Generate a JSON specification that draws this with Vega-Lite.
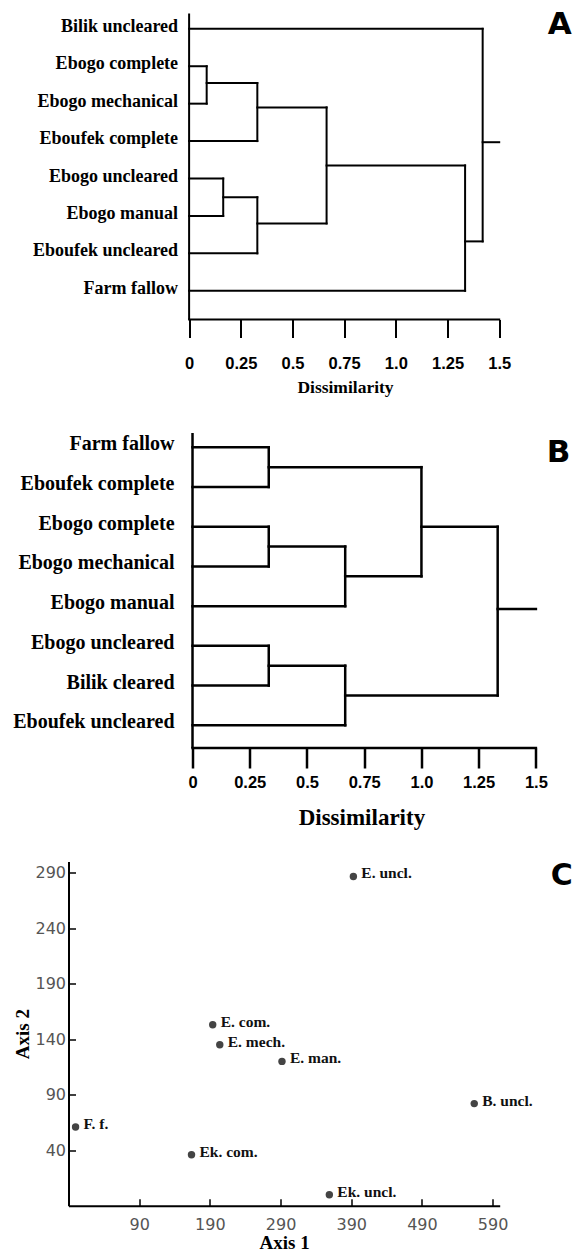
{
  "$schema": "https://vega.github.io/schema/vega-lite/v6.json",
  "padding": {"left": 12.5, "top": 8.5, "right": 0, "bottom": 0},
  "background": "white",
  "config": {"view": {"stroke": null}, "axis": {"grid": false, "labelFlush": false, "labelOverlap": false}},
  "bounds": "flush",
  "spacing": 113.5,
  "datasets": {
    "segA": [
      {"x": 0, "x2": 0.085, "y": 2, "y2": 2},
      {"x": 0, "x2": 0.085, "y": 3, "y2": 3},
      {"x": 0.085, "x2": 0.085, "y": 2, "y2": 3},
      {"x": 0.085, "x2": 0.33, "y": 2.45, "y2": 2.45},
      {"x": 0, "x2": 0.33, "y": 4, "y2": 4},
      {"x": 0.33, "x2": 0.33, "y": 2.45, "y2": 4},
      {"x": 0, "x2": 0.165, "y": 5, "y2": 5},
      {"x": 0, "x2": 0.165, "y": 6, "y2": 6},
      {"x": 0.165, "x2": 0.165, "y": 5, "y2": 6},
      {"x": 0.165, "x2": 0.33, "y": 5.5, "y2": 5.5},
      {"x": 0, "x2": 0.33, "y": 7, "y2": 7},
      {"x": 0.33, "x2": 0.33, "y": 5.5, "y2": 7},
      {"x": 0.33, "x2": 0.665, "y": 3.1, "y2": 3.1},
      {"x": 0.33, "x2": 0.665, "y": 6.2, "y2": 6.2},
      {"x": 0.665, "x2": 0.665, "y": 3.1, "y2": 6.2},
      {"x": 0.665, "x2": 1.335, "y": 4.65, "y2": 4.65},
      {"x": 0, "x2": 1.335, "y": 8, "y2": 8},
      {"x": 1.335, "x2": 1.335, "y": 4.65, "y2": 8},
      {"x": 1.335, "x2": 1.42, "y": 6.68, "y2": 6.68},
      {"x": 0, "x2": 1.42, "y": 1, "y2": 1},
      {"x": 1.42, "x2": 1.42, "y": 1, "y2": 6.68},
      {"x": 1.42, "x2": 1.5, "y": 4.03, "y2": 4.03}
    ],
    "leavesA": [
      {"name": "Bilik uncleared", "pos": 1},
      {"name": "Ebogo complete", "pos": 2},
      {"name": "Ebogo mechanical", "pos": 3},
      {"name": "Eboufek complete", "pos": 4},
      {"name": "Ebogo uncleared", "pos": 5},
      {"name": "Ebogo manual", "pos": 6},
      {"name": "Eboufek uncleared", "pos": 7},
      {"name": "Farm fallow", "pos": 8}
    ],
    "segB": [
      {"x": 0, "x2": 0.333, "y": 1, "y2": 1},
      {"x": 0, "x2": 0.333, "y": 2, "y2": 2},
      {"x": 0.333, "x2": 0.333, "y": 1, "y2": 2},
      {"x": 0.333, "x2": 1.0, "y": 1.5, "y2": 1.5},
      {"x": 0, "x2": 0.333, "y": 3, "y2": 3},
      {"x": 0, "x2": 0.333, "y": 4, "y2": 4},
      {"x": 0.333, "x2": 0.333, "y": 3, "y2": 4},
      {"x": 0.333, "x2": 0.667, "y": 3.5, "y2": 3.5},
      {"x": 0, "x2": 0.667, "y": 5, "y2": 5},
      {"x": 0.667, "x2": 0.667, "y": 3.5, "y2": 5},
      {"x": 0.667, "x2": 1.0, "y": 4.25, "y2": 4.25},
      {"x": 1.0, "x2": 1.0, "y": 1.5, "y2": 4.25},
      {"x": 1.0, "x2": 1.333, "y": 3.0, "y2": 3.0},
      {"x": 0, "x2": 0.333, "y": 6, "y2": 6},
      {"x": 0, "x2": 0.333, "y": 7, "y2": 7},
      {"x": 0.333, "x2": 0.333, "y": 6, "y2": 7},
      {"x": 0.333, "x2": 0.667, "y": 6.5, "y2": 6.5},
      {"x": 0, "x2": 0.667, "y": 8, "y2": 8},
      {"x": 0.667, "x2": 0.667, "y": 6.5, "y2": 8},
      {"x": 0.667, "x2": 1.333, "y": 7.25, "y2": 7.25},
      {"x": 1.333, "x2": 1.333, "y": 3.0, "y2": 7.25},
      {"x": 1.333, "x2": 1.5, "y": 5.07, "y2": 5.07}
    ],
    "leavesB": [
      {"name": "Farm fallow", "pos": 1},
      {"name": "Eboufek complete", "pos": 2},
      {"name": "Ebogo complete", "pos": 3},
      {"name": "Ebogo mechanical", "pos": 4},
      {"name": "Ebogo manual", "pos": 5},
      {"name": "Ebogo uncleared", "pos": 6},
      {"name": "Bilik cleared", "pos": 7},
      {"name": "Eboufek uncleared", "pos": 8}
    ],
    "ord": [
      {"site": "E. uncl.", "a1": 393, "a2": 286.5},
      {"site": "E. com.", "a1": 194, "a2": 153},
      {"site": "E. mech.", "a1": 204, "a2": 135},
      {"site": "E. man.", "a1": 292, "a2": 120},
      {"site": "B. uncl.", "a1": 564, "a2": 82},
      {"site": "F. f.", "a1": 0, "a2": 61},
      {"site": "Ek. com.", "a1": 164, "a2": 36},
      {"site": "Ek. uncl.", "a1": 359, "a2": 0}
    ]
  },
  "vconcat": [
    {
      "width": 430.7,
      "height": 306,
      "layer": [
        {
          "data": {"name": "segA"},
          "mark": {"type": "rule", "color": "#000", "strokeWidth": 2, "strokeCap": "square"},
          "encoding": {
            "x": {"field": "x", "type": "quantitative",
              "scale": {"domain": [-0.5834, 1.5], "nice": false, "zero": false},
              "axis": {"values": [0, 0.25, 0.5, 0.75, 1, 1.25, 1.5], "domain": false, "tickSize": 18, "tickWidth": 2, "tickColor": "#000",
                "labelFont": "Liberation Sans", "labelFontWeight": "bold", "labelFontSize": 16.5, "labelColor": "#000", "labelPadding": 18,
                "labelExpr": "datum.value == 1 ? '1.0' : format(datum.value, '')",
                "title": "Dissimilarity", "titleFont": "Liberation Serif", "titleFontSize": 17.5, "titleFontWeight": "bold", "titleColor": "#000",
                "titlePadding": 6, "titleX": 276.5}},
            "x2": {"field": "x2"},
            "y": {"field": "y", "type": "quantitative", "scale": {"domain": [8.767, 0.591], "nice": false, "zero": false}, "axis": null},
            "y2": {"field": "y2"}
          }
        },
        {
          "data": {"name": "leavesA"},
          "mark": {"type": "text", "align": "right", "baseline": "middle", "dx": -11, "dy": -2, "font": "Liberation Serif", "fontWeight": "bold", "fontSize": 18, "color": "#000"},
          "encoding": {"x": {"datum": 0}, "y": {"field": "pos", "type": "quantitative"}, "text": {"field": "name"}}
        },
        {
          "data": {"values": [{}]},
          "mark": {"type": "rule", "color": "#000", "strokeWidth": 2},
          "encoding": {"x": {"datum": 0}}
        },
        {
          "data": {"values": [{}]},
          "mark": {"type": "rule", "color": "#000", "strokeWidth": 2, "strokeCap": "square"},
          "encoding": {"x": {"datum": 0}, "x2": {"datum": 1.5}, "y": {"datum": 8.767}}
        },
        {
          "data": {"values": [{}]},
          "mark": {"type": "text", "text": "A", "font": "DejaVu Sans", "fontWeight": "bold", "fontSize": 31, "align": "center", "baseline": "middle", "dx": 60.5, "dy": 11, "color": "#000"},
          "encoding": {"x": {"datum": 1.5}, "y": {"datum": 0.591}}
        }
      ]
    },
    {
      "width": 467.4,
      "height": 315,
      "layer": [
        {
          "data": {"name": "segB"},
          "mark": {"type": "rule", "color": "#000", "strokeWidth": 2.5, "strokeCap": "square"},
          "encoding": {
            "x": {"field": "x", "type": "quantitative",
              "scale": {"domain": [-0.5417, 1.5], "nice": false, "zero": false},
              "axis": {"values": [0, 0.25, 0.5, 0.75, 1, 1.25, 1.5], "domain": false, "tickSize": 20, "tickWidth": 2.5, "tickColor": "#000",
                "labelFont": "Liberation Sans", "labelFontWeight": "bold", "labelFontSize": 16.5, "labelColor": "#000", "labelPadding": 6,
                "labelExpr": "datum.value == 1 ? '1.0' : format(datum.value, '')",
                "title": "Dissimilarity", "titleFont": "Liberation Serif", "titleFontSize": 23, "titleFontWeight": "bold", "titleColor": "#000",
                "titlePadding": 16, "titleX": 292.9}},
            "x2": {"field": "x2"},
            "y": {"field": "y", "type": "quantitative", "scale": {"domain": [8.572, 0.64], "nice": false, "zero": false}, "axis": null},
            "y2": {"field": "y2"}
          }
        },
        {
          "data": {"name": "leavesB"},
          "mark": {"type": "text", "align": "right", "baseline": "middle", "dx": -18, "dy": -3, "font": "Liberation Serif", "fontWeight": "bold", "fontSize": 20, "color": "#000"},
          "encoding": {"x": {"datum": 0}, "y": {"field": "pos", "type": "quantitative"}, "text": {"field": "name"}}
        },
        {
          "data": {"values": [{}]},
          "mark": {"type": "rule", "color": "#000", "strokeWidth": 2.5},
          "encoding": {"x": {"datum": 0}}
        },
        {
          "data": {"values": [{}]},
          "mark": {"type": "rule", "color": "#000", "strokeWidth": 2.5, "strokeCap": "square"},
          "encoding": {"x": {"datum": 0}, "x2": {"datum": 1.5}, "y": {"datum": 8.572}}
        },
        {
          "data": {"values": [{}]},
          "mark": {"type": "text", "text": "B", "font": "DejaVu Sans", "fontWeight": "bold", "fontSize": 31, "align": "center", "baseline": "middle", "dx": 22.6, "dy": 19.5, "color": "#000"},
          "encoding": {"x": {"datum": 1.5}, "y": {"datum": 0.64}}
        }
      ]
    },
    {
      "width": 431.2,
      "height": 344.3,
      "layer": [
        {
          "data": {"name": "ord"},
          "mark": {"type": "circle", "size": 55, "color": "#444", "opacity": 1},
          "encoding": {
            "x": {"field": "a1", "type": "quantitative",
              "scale": {"domain": [-10, 600], "nice": false, "zero": false},
              "axis": {"values": [90, 190, 290, 390, 490, 590], "domainColor": "#000", "domainWidth": 2, "tickSize": -7, "tickWidth": 1.5, "tickColor": "#000",
                "labelFont": "DejaVu Sans", "labelFontSize": 16, "labelColor": "#555", "labelPadding": 18,
                "title": "Axis 1", "titleFont": "Liberation Serif", "titleFontSize": 19, "titleFontWeight": "bold", "titleColor": "#000", "titlePadding": 1}},
            "y": {"field": "a2", "type": "quantitative",
              "scale": {"domain": [-10, 300], "nice": false, "zero": false},
              "axis": {"values": [40, 90, 140, 190, 240, 290], "domainColor": "#000", "domainWidth": 2, "tickSize": -7, "tickWidth": 1.5, "tickColor": "#000",
                "labelFont": "DejaVu Sans", "labelFontSize": 16, "labelColor": "#555", "labelPadding": 10,
                "title": "Axis 2", "titleFont": "Liberation Serif", "titleFontSize": 19, "titleFontWeight": "bold", "titleColor": "#000", "titlePadding": 2}}
          }
        },
        {
          "data": {"name": "ord"},
          "mark": {"type": "text", "align": "left", "baseline": "middle", "dx": 8, "dy": -3, "font": "Liberation Serif", "fontWeight": "bold", "fontSize": 15.5, "color": "#111"},
          "encoding": {"x": {"field": "a1", "type": "quantitative"}, "y": {"field": "a2", "type": "quantitative"}, "text": {"field": "site"}}
        },
        {
          "data": {"values": [{}]},
          "mark": {"type": "text", "text": "C", "font": "DejaVu Sans", "fontWeight": "bold", "fontSize": 30, "align": "center", "baseline": "middle", "dx": 62, "dy": 14.3, "color": "#000"},
          "encoding": {"x": {"datum": 600}, "y": {"datum": 300}}
        }
      ]
    }
  ]
}
